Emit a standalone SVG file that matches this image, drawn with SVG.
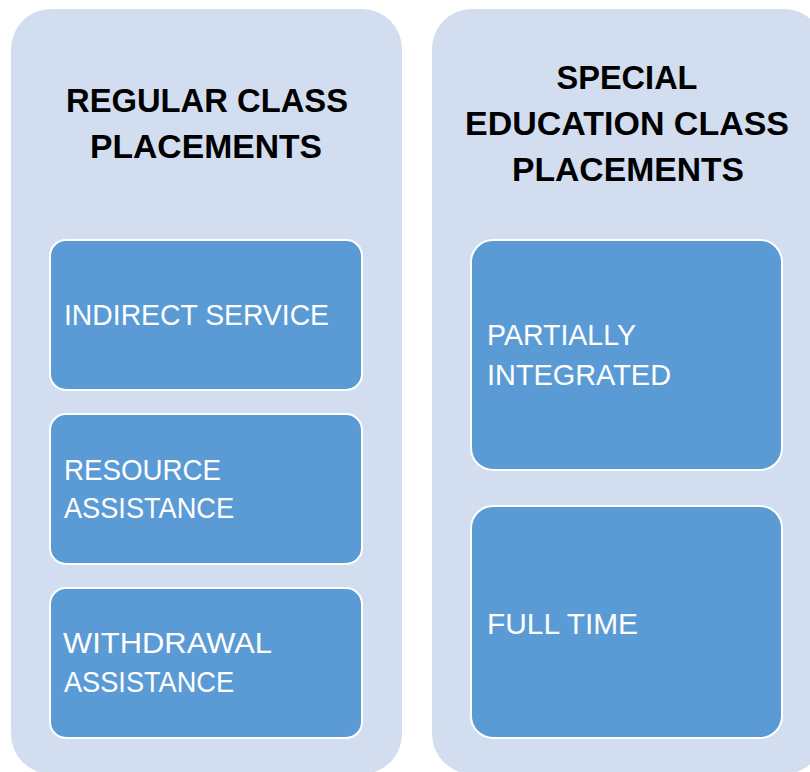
<svg xmlns="http://www.w3.org/2000/svg" width="810" height="772" viewBox="0 0 810 772">
  <style>
    .panel { fill: #D2DEEF; }
    .box { fill: #5B9BD5; stroke: #FFFFFF; stroke-width: 2; }
    .title { font-family: "Liberation Sans", Arial, sans-serif; font-weight: bold; font-size: 33px; fill: #000000; text-anchor: middle; }
    .label { font-family: "Liberation Sans", Arial, sans-serif; font-size: 30px; fill: #FFFFFF; }
  </style>
  <rect width="810" height="772" fill="#FFFFFF"/>

  <!-- Left column: regular class placements -->
  <g id="regular-class-placements">
    <rect class="panel" x="11" y="9" width="391" height="765" rx="40" ry="40"/>
    <text class="title" x="207" y="112" textLength="282" lengthAdjust="spacingAndGlyphs">REGULAR CLASS</text>
    <text class="title" x="206" y="158" textLength="232" lengthAdjust="spacingAndGlyphs">PLACEMENTS</text>
  </g>

  <!-- Right column: special education class placements -->
  <g id="special-education-class-placements">
    <rect class="panel" x="432" y="9" width="392" height="765" rx="40" ry="40"/>
    <text class="title" x="627" y="89" textLength="141" lengthAdjust="spacingAndGlyphs">SPECIAL</text>
    <text class="title" x="627" y="135" textLength="324" lengthAdjust="spacingAndGlyphs">EDUCATION CLASS</text>
    <text class="title" x="628" y="181" textLength="232" lengthAdjust="spacingAndGlyphs">PLACEMENTS</text>
  </g>

  <g id="indirect-service">
    <rect class="box" x="50" y="240" width="312" height="150" rx="16" ry="16"/>
    <text class="label" x="64" y="325" textLength="265" lengthAdjust="spacingAndGlyphs">INDIRECT SERVICE</text>
  </g>

  <g id="resource-assistance">
    <rect class="box" x="50" y="414" width="312" height="150" rx="16" ry="16"/>
    <text class="label" x="64" y="480" textLength="157" lengthAdjust="spacingAndGlyphs">RESOURCE</text>
    <text class="label" x="64" y="518" textLength="170" lengthAdjust="spacingAndGlyphs">ASSISTANCE</text>
  </g>

  <g id="withdrawal-assistance">
    <rect class="box" x="50" y="588" width="312" height="150" rx="16" ry="16"/>
    <text class="label" x="63" y="653" textLength="209" lengthAdjust="spacingAndGlyphs">WITHDRAWAL</text>
    <text class="label" x="64" y="692" textLength="170" lengthAdjust="spacingAndGlyphs">ASSISTANCE</text>
  </g>

  <g id="partially-integrated">
    <rect class="box" x="471" y="240" width="311" height="230" rx="22" ry="22"/>
    <text class="label" x="487" y="345" textLength="149" lengthAdjust="spacingAndGlyphs">PARTIALLY</text>
    <text class="label" x="487" y="385" textLength="184" lengthAdjust="spacingAndGlyphs">INTEGRATED</text>
  </g>

  <g id="full-time">
    <rect class="box" x="471" y="506" width="311" height="232" rx="22" ry="22"/>
    <text class="label" x="487" y="634" textLength="151" lengthAdjust="spacingAndGlyphs">FULL TIME</text>
  </g>

  <!-- no connectors in this layout -->
  <g id="connectors"/>
</svg>
